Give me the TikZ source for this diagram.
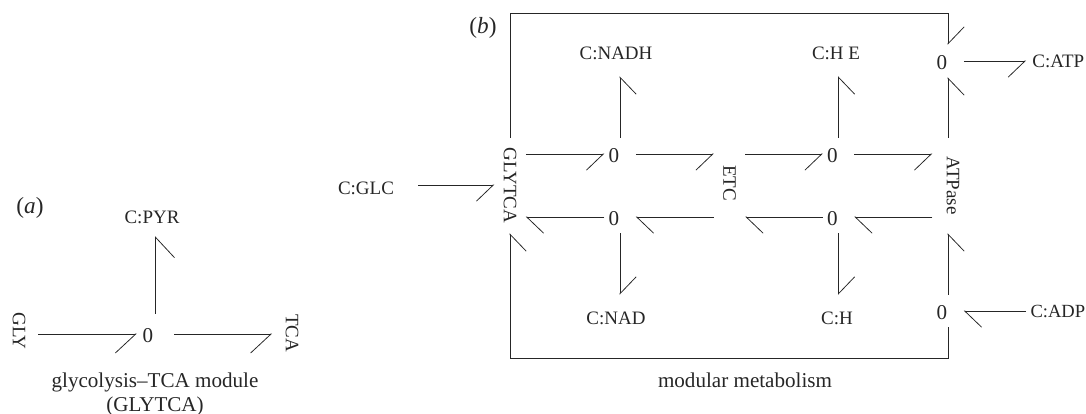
\documentclass[tikz,border=0pt]{standalone}
\usepackage{fontspec}
\setmainfont{Liberation Serif}
\usepackage{tikz}
\usetikzlibrary{arrows.meta}
\tikzset{
    bondr/.style={draw=black!85, line width=.55pt, -{Straight Barb[right, length=12pt, width=23pt]}},
    bondl/.style={draw=black!85, line width=.55pt, -{Straight Barb[left, length=12pt, width=23pt]}},
    bigbond/.style={-{Straight Barb[right, length=14.5pt, width=27pt]}},
    clabel/.style={font={\fontsize{13.5pt}{16pt}\selectfont}, text height=9pt, text depth=0pt, inner xsep=4.4pt, inner ysep=11.9pt},
    junction/.style={inner sep=0pt, minimum width=22pt, minimum height=22.8pt,
        text height=12pt, text depth=0pt, execute at end node={\hspace{8.6pt}}},
    module/.style={font={\fontsize{13.5pt}{16pt}\selectfont}, inner sep=0pt, minimum width=22pt, minimum height=67.6pt},
    caption/.style={inner sep=0pt, align=center},
    font={\fontsize{15pt}{16.5pt}\selectfont},
    every node/.style={text=black!85},
}
\newcommand{\turned}[1]{\rotatebox{-90}{#1}}
\begin{document}
\begin{tikzpicture}[x=0.025cm, y=-0.025cm]
\useasboundingbox (0,0) rectangle (1086,414);
% glycolysis-TCA module
\node[caption, font={\fontsize{16.5pt}{18pt}\selectfont}] (La) at (30,208){(\textit{a})};
\node[junction, minimum width=26.3pt, minimum height=28.5pt, execute at end node={\hspace{2.1pt}}] (Ja) at (155.5,334){0};
\node[clabel, inner ysep=9pt] (PYR) at (152,217){C:PYR};
\node[module, minimum width=27pt, minimum height=20pt] (GLY) at (19,331){\turned{GLY}};
\node[module, minimum width=28pt, minimum height=20pt] (TCA) at (292,333){\turned{TCA}};
\node[caption] (Ca) at (155,394.5){glycolysis--TCA module\\(GLYTCA)};
\draw[bondr, bigbond] (GLY.east |- Ja) -- (Ja.west);
\draw[bondr, bigbond] (Ja.east) -- (TCA.west |- Ja);
\draw[bondr, bigbond] (Ja.north) -- (Ja.north |- PYR.south);
% modular metabolism
\node[caption, font={\fontsize{16.5pt}{18pt}\selectfont}] (Lb) at (483,28){(\textit{b})};
\node[module] (GLYTCA) at (510,185.5){\turned{GLYTCA}};
\node[module, minimum height=45pt] (ETC) at (729.5,183){\turned{ETC}};
\node[module] (ATPase) at (948,185.5){\hspace*{7pt}\turned{ATPase}};
\node[junction] (J1) at (620,154){0};
\node[junction] (J2) at (838.5,154){0};
\node[junction] (J3) at (620,217){0};
\node[junction] (J4) at (838.5,217){0};
\node[junction] (J5) at (948,61){0};
\node[junction] (J6) at (948,311){0};
\node[clabel] (NADH) at (616,53){C:NADH};
\node[clabel] (HE) at (836,53){C:H E};
\node[clabel] (NAD) at (616,318){C:NAD};
\node[clabel] (H) at (837,318){C:H};
\node[clabel, anchor=west] (ATP) at (1026,61){C:ATP};
\node[clabel, anchor=west, inner xsep=3pt, font={\fontsize{13.2pt}{16pt}\selectfont}] (ADP) at (1026,311){C:ADP};
\node[clabel, text height=13pt, inner xsep=17pt, inner ysep=0pt] (GLC) at (366,185){C:GLC};
\node[caption] (Cb) at (745,380){modular metabolism};
% upper row
\draw[bondr] (GLC.east) -- (GLYTCA.west |- GLC.east);
\draw[bondr] (GLYTCA.east |- J1) -- (J1.west);
\draw[bondr] (J1.east) -- (ETC.west |- J1);
\draw[bondr] (ETC.east |- J2) -- (J2.west);
\draw[bondr] (J2.east) -- (ATPase.west |- J2);
\draw[bondr] (J1.north) -- (J1.north |- NADH.south);
\draw[bondr] (J2.north) -- (J2.north |- HE.south);
% lower row
\draw[bondl] (ATPase.west |- J4) -- (J4.east);
\draw[bondl] (J4.west) -- (ETC.east |- J4);
\draw[bondl] (ETC.west |- J3) -- (J3.east);
\draw[bondl] (J3.west) -- (GLYTCA.east |- J3);
\draw[bondl] (J3.south) -- (J3.south |- NAD.north);
\draw[bondl] (J4.south) -- (J4.south |- H.north);
% right side and outer loop
\draw[bondr] (ATPase.north) -- (J5.south);
\draw[bondr] (J6.north) -- (ATPase.south);
\draw[bondr] (J5.east) -- (ATP.west);
\draw[bondl] (ADP.west) -- (J6.east);
\draw[bondl] (GLYTCA.north) -- ++(0,-124) -| (J5.north);
\draw[bondr] (J6.south) -- ++(0,31) -| (GLYTCA.south);
\end{tikzpicture}
\end{document}
